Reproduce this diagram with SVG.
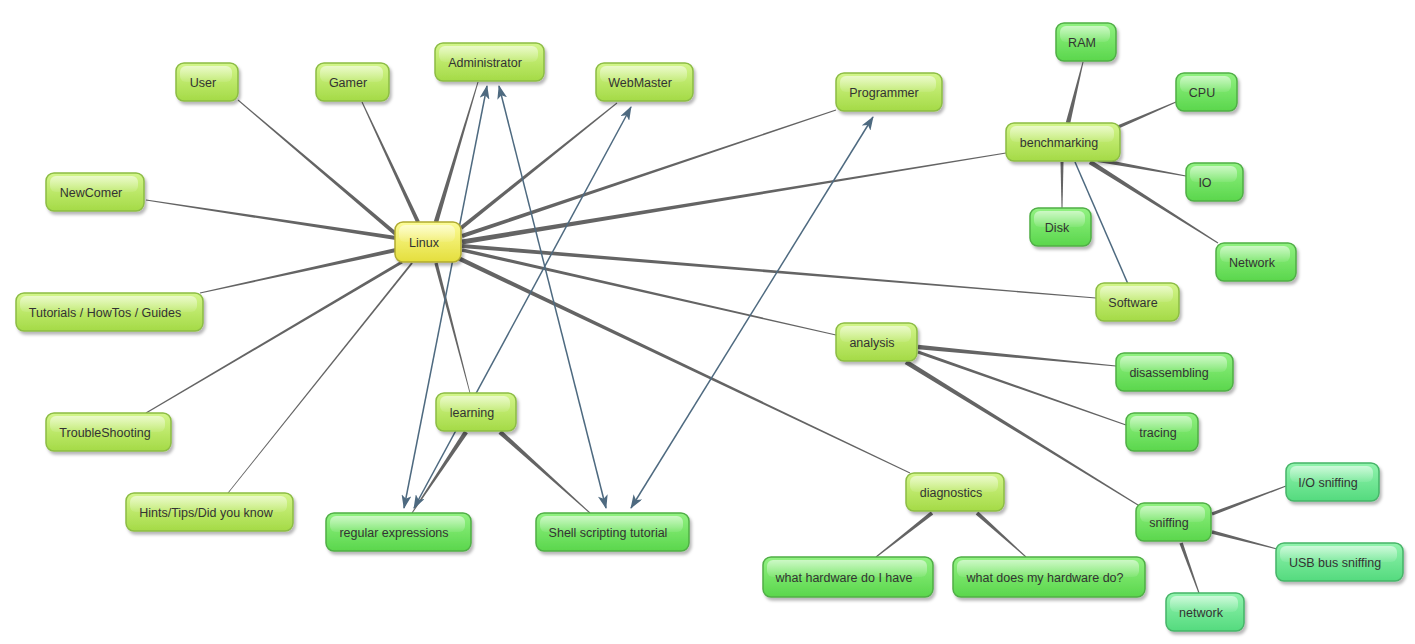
<svg xmlns="http://www.w3.org/2000/svg" width="1415" height="644" viewBox="0 0 1415 644">
<style>
.edge{fill:#646464;stroke:none}
.link{stroke:#4e6a80;stroke-width:1.5;fill:none}
.arr{marker-start:url(#ah);marker-end:url(#ah)}
.n rect.b{stroke-width:1.5;filter:url(#sh)}
.yg rect.b{fill:url(#gYG);stroke:#8cbc44}
.gr rect.b{fill:url(#gGR);stroke:#50ae46}
.mi rect.b{fill:url(#gMI);stroke:#46b468}
.ye rect.b{fill:url(#gYE);stroke:#b0aa30}
.n rect.g{fill:url(#gloss);stroke:none}
.n text{font-family:"Liberation Sans",Arial,sans-serif;font-size:12.5px;fill:#333;text-anchor:middle}
</style>
<defs>
<linearGradient id="gYG" x1="0" y1="0" x2="0" y2="1"><stop offset="0" stop-color="#d4f68c"/><stop offset="1" stop-color="#a4da46"/></linearGradient>
<linearGradient id="gGR" x1="0" y1="0" x2="0" y2="1"><stop offset="0" stop-color="#92f282"/><stop offset="1" stop-color="#5ad64c"/></linearGradient>
<linearGradient id="gMI" x1="0" y1="0" x2="0" y2="1"><stop offset="0" stop-color="#92f4ae"/><stop offset="1" stop-color="#54da7e"/></linearGradient>
<linearGradient id="gYE" x1="0" y1="0" x2="0" y2="1"><stop offset="0" stop-color="#fcfc98"/><stop offset="1" stop-color="#e4de3c"/></linearGradient>
<linearGradient id="gloss" x1="0" y1="0" x2="0" y2="1"><stop offset="0" stop-color="#fff" stop-opacity="0.55"/><stop offset="1" stop-color="#fff" stop-opacity="0.08"/></linearGradient>
<filter id="sh" x="-20%" y="-30%" width="140%" height="170%"><feDropShadow dx="2" dy="3" stdDeviation="1.6" flood-color="#000" flood-opacity="0.28"/></filter>
<marker id="ah" viewBox="0 0 14 10" refX="13" refY="5" markerWidth="14" markerHeight="10" markerUnits="userSpaceOnUse" orient="auto-start-reverse"><path d="M0,0 L14,5 L0,10 L3.5,5 z" fill="#4e6a80"/></marker>
</defs>
<rect width="1415" height="644" fill="#fff"/>
<g id="connectors">
<polygon class="edge" points="398.3,233.5 238.3,99.6 237.7,100.4 395.7,236.5"/>
<polygon class="edge" points="419.8,221.2 362.5,101.8 361.5,102.2 416.2,222.8"/>
<polygon class="edge" points="438.2,222.6 478.5,82.1 477.5,81.9 433.8,221.4"/>
<polygon class="edge" points="462.3,229.6 617.3,103.4 616.7,102.6 459.8,226.4"/>
<polygon class="edge" points="462.6,237.9 836.2,110.5 835.8,109.5 461.4,234.1"/>
<polygon class="edge" points="462.4,244.5 1006.1,153.5 1005.9,152.5 461.6,239.5"/>
<polygon class="edge" points="461.8,248.0 1096.0,298.5 1096.0,297.5 462.2,244.0"/>
<polygon class="edge" points="461.6,251.7 835.9,335.5 836.1,334.5 462.4,248.3"/>
<polygon class="edge" points="457.0,260.0 909.8,473.5 910.2,472.5 459.0,256.0"/>
<polygon class="edge" points="434.4,263.4 469.6,393.1 470.4,392.9 437.6,262.6"/>
<polygon class="edge" points="411.2,262.4 227.7,492.8 228.3,493.3 412.8,263.6"/>
<polygon class="edge" points="401.2,260.7 145.7,412.6 146.3,413.4 402.8,263.3"/>
<polygon class="edge" points="395.6,248.0 199.9,292.5 200.1,293.5 396.4,252.0"/>
<polygon class="edge" points="396.3,236.0 146.1,199.5 145.9,200.5 395.7,240.0"/>
<polygon class="edge" points="1070.2,123.5 1083.5,62.1 1082.5,61.9 1065.8,122.5"/>
<polygon class="edge" points="1118.7,128.6 1176.2,102.5 1175.8,101.5 1117.3,125.4"/>
<polygon class="edge" points="1097.6,162.0 1185.9,176.5 1186.1,175.5 1098.4,158.0"/>
<polygon class="edge" points="1060.5,162 1061.5,208 1062.5,208 1063.5,162"/>
<polygon class="edge" points="1088.8,163.9 1217.7,243.4 1218.3,242.6 1091.2,160.1"/>
<polygon class="edge" points="917.8,349.2 1116.0,366.5 1116.0,365.5 918.2,344.8"/>
<polygon class="edge" points="917.5,353.4 1125.8,425.5 1126.2,424.5 918.5,350.6"/>
<polygon class="edge" points="904.7,364.1 1137.7,505.4 1138.3,504.6 907.3,359.9"/>
<polygon class="edge" points="930.8,511.4 875.7,556.6 876.3,557.4 933.2,514.6"/>
<polygon class="edge" points="975.7,514.5 1025.7,557.4 1026.3,556.6 978.3,511.5"/>
<polygon class="edge" points="1212.6,515.6 1286.2,486.5 1285.8,485.5 1211.4,512.4"/>
<polygon class="edge" points="1211.6,533.7 1276.9,549.5 1277.1,548.5 1212.4,530.3"/>
<polygon class="edge" points="1179.4,543.6 1198.5,593.2 1199.5,592.8 1182.7,542.4"/>
<polygon class="edge" points="464.1,430.8 411.6,512.7 412.4,513.3 467.9,433.2"/>
<polygon class="edge" points="498.5,433.7 589.7,513.4 590.3,512.6 501.5,430.3"/>
<line class="link" x1="1128" y1="284" x2="1075" y2="162"/>
<line class="link arr" x1="487" y1="86" x2="404" y2="508"/>
<line class="link arr" x1="499" y1="86" x2="606" y2="508"/>
<line class="link arr" x1="631" y1="107" x2="414" y2="508"/>
<line class="link arr" x1="873" y1="117" x2="631" y2="508"/>
</g>
<g id="node-linux" class="n ye"><rect class="b" x="395" y="222" width="66" height="40" rx="8"/><rect class="g" x="399" y="225" width="56" height="17" rx="6"/><text x="424" y="247">Linux</text></g>
<g id="node-user" class="n yg"><rect class="b" x="176" y="63" width="62" height="38" rx="8"/><rect class="g" x="180" y="66" width="52" height="16" rx="6"/><text x="203" y="87">User</text></g>
<g id="node-gamer" class="n yg"><rect class="b" x="316" y="63" width="73" height="38" rx="8"/><rect class="g" x="320" y="66" width="63" height="16" rx="6"/><text x="348" y="87">Gamer</text></g>
<g id="node-administrator" class="n yg"><rect class="b" x="435" y="43" width="109" height="38" rx="8"/><rect class="g" x="439" y="46" width="99" height="16" rx="6"/><text x="485" y="67">Administrator</text></g>
<g id="node-webmaster" class="n yg"><rect class="b" x="596" y="63" width="97" height="38" rx="8"/><rect class="g" x="600" y="66" width="87" height="16" rx="6"/><text x="640" y="87">WebMaster</text></g>
<g id="node-programmer" class="n yg"><rect class="b" x="836" y="73" width="106" height="38" rx="8"/><rect class="g" x="840" y="76" width="96" height="16" rx="6"/><text x="884" y="97">Programmer</text></g>
<g id="node-ram" class="n gr"><rect class="b" x="1056" y="23" width="60" height="38" rx="8"/><rect class="g" x="1060" y="26" width="50" height="16" rx="6"/><text x="1082" y="47">RAM</text></g>
<g id="node-cpu" class="n gr"><rect class="b" x="1176" y="73" width="61" height="38" rx="8"/><rect class="g" x="1180" y="76" width="51" height="16" rx="6"/><text x="1202" y="97">CPU</text></g>
<g id="node-benchmarking" class="n yg"><rect class="b" x="1006" y="123" width="114" height="38" rx="8"/><rect class="g" x="1010" y="126" width="104" height="16" rx="6"/><text x="1059" y="147">benchmarking</text></g>
<g id="node-io" class="n gr"><rect class="b" x="1186" y="163" width="57" height="38" rx="8"/><rect class="g" x="1190" y="166" width="47" height="16" rx="6"/><text x="1205" y="187">IO</text></g>
<g id="node-disk" class="n gr"><rect class="b" x="1030" y="208" width="61" height="38" rx="8"/><rect class="g" x="1034" y="211" width="51" height="16" rx="6"/><text x="1057" y="232">Disk</text></g>
<g id="node-network-bench" class="n gr"><rect class="b" x="1216" y="243" width="80" height="38" rx="8"/><rect class="g" x="1220" y="246" width="70" height="16" rx="6"/><text x="1252" y="267">Network</text></g>
<g id="node-software" class="n yg"><rect class="b" x="1096" y="283" width="83" height="38" rx="8"/><rect class="g" x="1100" y="286" width="73" height="16" rx="6"/><text x="1133" y="307">Software</text></g>
<g id="node-analysis" class="n yg"><rect class="b" x="836" y="323" width="81" height="38" rx="8"/><rect class="g" x="840" y="326" width="71" height="16" rx="6"/><text x="872" y="347">analysis</text></g>
<g id="node-disassembling" class="n gr"><rect class="b" x="1116" y="353" width="117" height="38" rx="8"/><rect class="g" x="1120" y="356" width="107" height="16" rx="6"/><text x="1169" y="377">disassembling</text></g>
<g id="node-tracing" class="n gr"><rect class="b" x="1126" y="413" width="72" height="38" rx="8"/><rect class="g" x="1130" y="416" width="62" height="16" rx="6"/><text x="1158" y="437">tracing</text></g>
<g id="node-newcomer" class="n yg"><rect class="b" x="46" y="173" width="98" height="38" rx="8"/><rect class="g" x="50" y="176" width="88" height="16" rx="6"/><text x="91" y="197">NewComer</text></g>
<g id="node-tutorials" class="n yg"><rect class="b" x="16" y="293" width="187" height="38" rx="8"/><rect class="g" x="20" y="296" width="177" height="16" rx="6"/><text x="105" y="317">Tutorials / HowTos / Guides</text></g>
<g id="node-troubleshooting" class="n yg"><rect class="b" x="46" y="413" width="125" height="38" rx="8"/><rect class="g" x="50" y="416" width="115" height="16" rx="6"/><text x="105" y="437">TroubleShooting</text></g>
<g id="node-hints" class="n yg"><rect class="b" x="126" y="493" width="167" height="38" rx="8"/><rect class="g" x="130" y="496" width="157" height="16" rx="6"/><text x="206" y="517">Hints/Tips/Did you know</text></g>
<g id="node-learning" class="n yg"><rect class="b" x="436" y="393" width="80" height="38" rx="8"/><rect class="g" x="440" y="396" width="70" height="16" rx="6"/><text x="472" y="417">learning</text></g>
<g id="node-regex" class="n gr"><rect class="b" x="326" y="513" width="145" height="38" rx="8"/><rect class="g" x="330" y="516" width="135" height="16" rx="6"/><text x="394" y="537">regular expressions</text></g>
<g id="node-shell" class="n gr"><rect class="b" x="536" y="513" width="153" height="38" rx="8"/><rect class="g" x="540" y="516" width="143" height="16" rx="6"/><text x="608" y="537">Shell scripting tutorial</text></g>
<g id="node-diagnostics" class="n yg"><rect class="b" x="906" y="473" width="98" height="38" rx="8"/><rect class="g" x="910" y="476" width="88" height="16" rx="6"/><text x="951" y="497">diagnostics</text></g>
<g id="node-what-have" class="n gr"><rect class="b" x="763" y="557" width="170" height="40" rx="8"/><rect class="g" x="767" y="560" width="160" height="17" rx="6"/><text x="844" y="582">what hardware do I have</text></g>
<g id="node-what-do" class="n gr"><rect class="b" x="953" y="557" width="192" height="40" rx="8"/><rect class="g" x="957" y="560" width="182" height="17" rx="6"/><text x="1045" y="582">what does my hardware do?</text></g>
<g id="node-sniffing" class="n gr"><rect class="b" x="1136" y="503" width="75" height="38" rx="8"/><rect class="g" x="1140" y="506" width="65" height="16" rx="6"/><text x="1169" y="527">sniffing</text></g>
<g id="node-io-sniffing" class="n mi"><rect class="b" x="1286" y="463" width="93" height="38" rx="8"/><rect class="g" x="1290" y="466" width="83" height="16" rx="6"/><text x="1328" y="487">I/O sniffing</text></g>
<g id="node-usb-sniffing" class="n mi"><rect class="b" x="1276" y="543" width="127" height="38" rx="8"/><rect class="g" x="1280" y="546" width="117" height="16" rx="6"/><text x="1335" y="567">USB bus sniffing</text></g>
<g id="node-network-sniff" class="n mi"><rect class="b" x="1166" y="593" width="78" height="38" rx="8"/><rect class="g" x="1170" y="596" width="68" height="16" rx="6"/><text x="1201" y="617">network</text></g>
</svg>
